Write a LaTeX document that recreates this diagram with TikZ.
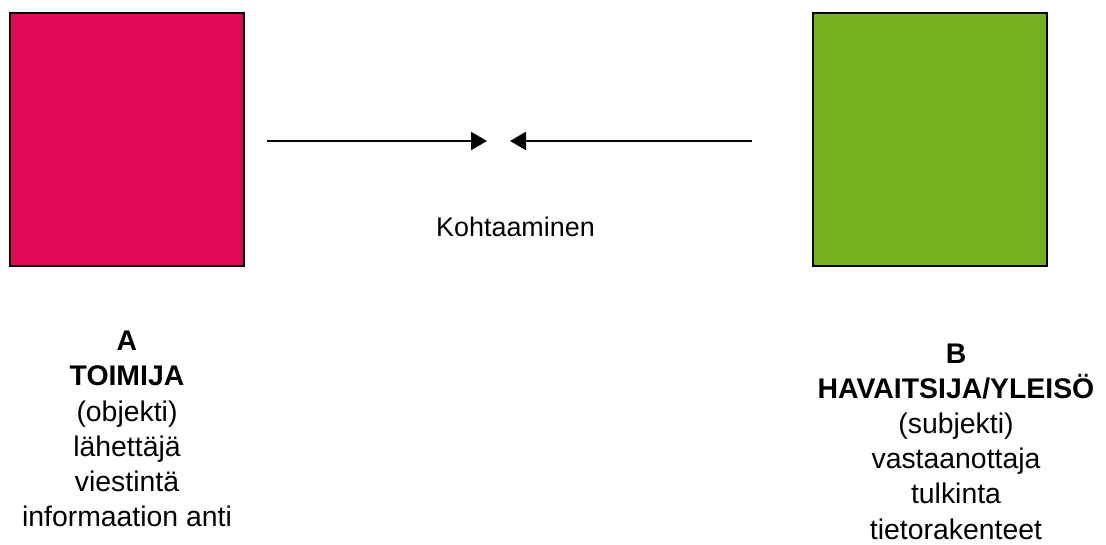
\documentclass[tikz,border=0pt]{standalone}
\usepackage{fontspec}
\setmainfont{Liberation Sans}
\usetikzlibrary{arrows.meta}
\definecolor{actorpink}{RGB}{226,10,86}
\definecolor{observergreen}{RGB}{117,176,32}
\tikzset{
  party/.style={draw=black, line width=1.8bp},
  flow/.style={line width=2.2bp, -{Triangle[length=16bp,width=18bp]}},
  roletext/.style={align=center, inner sep=0pt, anchor=north,
    font=\fontsize{28.5}{35.3}\selectfont},
  meettext/.style={inner sep=0pt, anchor=base, font=\fontsize{27}{32}\selectfont}
}
\begin{document}
\begin{tikzpicture}[x=1bp,y=-1bp]
  \useasboundingbox (0,0) rectangle (1106,545);
  % the two parties
  \filldraw[party, fill=actorpink] (10,13) rectangle (244,266);
  \node[inner sep=0pt] (boxA) at (127,139.5) {};
  \filldraw[party, fill=observergreen] (813,13) rectangle (1047,266);
  \node[inner sep=0pt] (boxB) at (930,139.5) {};
  % arrows meeting in the middle
  \coordinate (a1) at (267,141);
  \coordinate (a2) at (487,141);
  \coordinate (b1) at (752,141);
  \coordinate (b2) at (510,141);
  \draw[flow] (a1) -- (a2);
  \draw[flow] (b1) -- (b2);
  \node[meettext] (meet) at (515.5,236.5) {Kohtaaminen};
  % descriptions
  \node[roletext] (textA) at (127,331) {\textbf{A}\\\textbf{TOIMIJA}\\(objekti)\\lähettäjä\\viestintä\\informaation anti};
  \node[roletext] (textB) at (956,343.5) {\textbf{B}\\\textbf{HAVAITSIJA/YLEISÖ}\\(subjekti)\\vastaanottaja\\tulkinta\\tietorakenteet};
\end{tikzpicture}
\end{document}
